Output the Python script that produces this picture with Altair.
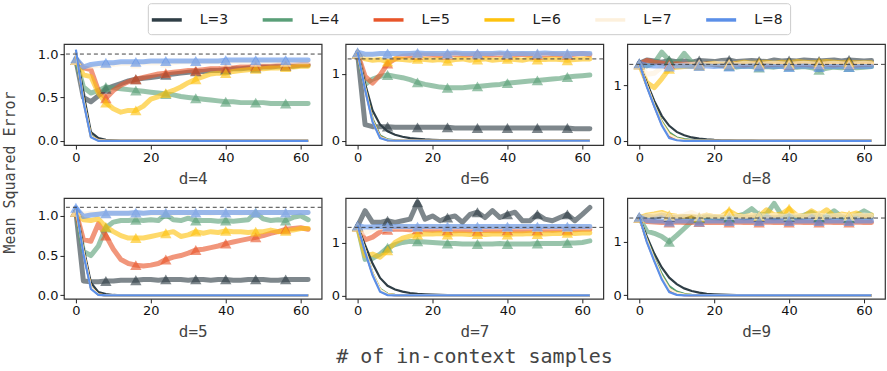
import altair as alt
import pandas as pd

X = [0, 2, 4, 6, 8, 10, 12, 14, 16, 18, 20, 22, 24, 26, 28, 30,
     32, 34, 36, 38, 40, 42, 44, 46, 48, 50, 52, 54, 56, 58, 60, 62]
MARK_X = [0, 8, 16, 24, 32, 40, 48, 56]
SERIES = ["L=3", "L=4", "L=5", "L=6", "L=7", "L=8"]
COLORS = ["#2f3e46", "#5a9f78", "#e8552a", "#fec20e", "#fdf0dc", "#5b8fe8"]

PANELS = ["d=4", "d=6", "d=8", "d=5", "d=7", "d=9"]
BASELINE = {"d=4": 1.0, "d=6": 1.22, "d=8": 1.38, "d=5": 1.106, "d=7": 1.285, "d=9": 1.445}
Y_DOMAIN = {"d=4": [-0.049, 1.114], "d=6": [-0.064, 1.44], "d=8": [-0.077, 1.745],
            "d=5": [-0.044, 1.223], "d=7": [-0.066, 1.84], "d=9": [-0.066, 1.82]}
Y_TICKS = {"d=4": [0, 0.5, 1.0], "d=6": [0, 1], "d=8": [0, 1],
           "d=5": [0, 0.5, 1.0], "d=7": [0, 1], "d=9": [0, 1]}

# ---- thick (transparent, with triangles) series ----
THICK = {
    "d=4": {
        "L=3": [0.93, 0.50, 0.45, 0.52, 0.60, 0.63, 0.66, 0.69, 0.71, 0.72, 0.73, 0.74, 0.76, 0.77, 0.78, 0.79,
                0.80, 0.80, 0.81, 0.81, 0.82, 0.83, 0.83, 0.84, 0.84, 0.85, 0.85, 0.86, 0.86, 0.86, 0.87, 0.87],
        "L=4": [0.93, 0.62, 0.55, 0.58, 0.62, 0.61, 0.60, 0.59, 0.58, 0.57, 0.56, 0.55, 0.54, 0.53, 0.51, 0.50,
                0.49, 0.48, 0.47, 0.46, 0.45, 0.45, 0.44, 0.44, 0.44, 0.44, 0.43, 0.43, 0.43, 0.43, 0.43, 0.43],
        "L=5": [0.93, 0.84, 0.82, 0.58, 0.49, 0.58, 0.64, 0.68, 0.71, 0.73, 0.75, 0.77, 0.78, 0.79, 0.80, 0.81,
                0.81, 0.82, 0.83, 0.83, 0.84, 0.84, 0.85, 0.85, 0.86, 0.86, 0.86, 0.87, 0.87, 0.87, 0.88, 0.88],
        "L=6": [0.93, 0.76, 0.74, 0.55, 0.44, 0.37, 0.33, 0.35, 0.35, 0.40, 0.48, 0.51, 0.55, 0.58, 0.62, 0.67,
                0.71, 0.74, 0.77, 0.78, 0.78, 0.80, 0.81, 0.82, 0.83, 0.83, 0.84, 0.84, 0.85, 0.85, 0.86, 0.86],
        "L=7": [0.93, 0.86, 0.86, 0.87, 0.88, 0.88, 0.89, 0.89, 0.89, 0.90, 0.90, 0.90, 0.90, 0.90, 0.91, 0.91,
                0.91, 0.91, 0.91, 0.91, 0.91, 0.91, 0.91, 0.91, 0.91, 0.91, 0.91, 0.91, 0.91, 0.91, 0.91, 0.91],
        "L=8": [0.95, 0.85, 0.88, 0.89, 0.90, 0.90, 0.91, 0.91, 0.91, 0.91, 0.92, 0.92, 0.92, 0.92, 0.92, 0.92,
                0.92, 0.92, 0.92, 0.92, 0.93, 0.93, 0.93, 0.93, 0.93, 0.93, 0.93, 0.93, 0.93, 0.93, 0.93, 0.93],
    },
    "d=6": {
        "L=3": [1.30, 0.24, 0.21, 0.21, 0.21, 0.20, 0.20, 0.20, 0.20, 0.20, 0.20, 0.20, 0.20, 0.19, 0.19, 0.19,
                0.19, 0.19, 0.19, 0.19, 0.19, 0.19, 0.19, 0.19, 0.19, 0.19, 0.19, 0.19, 0.19, 0.18, 0.18, 0.18],
        "L=4": [1.30, 0.84, 0.92, 0.96, 0.98, 0.96, 0.94, 0.91, 0.87, 0.84, 0.82, 0.80, 0.79, 0.79, 0.79, 0.80,
                0.81, 0.82, 0.83, 0.84, 0.86, 0.87, 0.88, 0.89, 0.90, 0.91, 0.92, 0.93, 0.95, 0.96, 0.97, 0.98],
        "L=5": [1.30, 0.96, 0.86, 0.98, 1.15, 1.22, 1.26, 1.27, 1.28, 1.28, 1.28, 1.27, 1.28, 1.29, 1.28, 1.28,
                1.29, 1.28, 1.28, 1.29, 1.28, 1.28, 1.29, 1.28, 1.28, 1.28, 1.29, 1.28, 1.28, 1.29, 1.30, 1.28],
        "L=6": [1.30, 1.22, 1.20, 1.21, 1.18, 1.22, 1.21, 1.20, 1.22, 1.21, 1.20, 1.21, 1.19, 1.21, 1.22, 1.20,
                1.21, 1.22, 1.20, 1.21, 1.22, 1.21, 1.20, 1.22, 1.21, 1.21, 1.22, 1.21, 1.20, 1.21, 1.22, 1.22],
        "L=7": [1.30, 1.27, 1.28, 1.29, 1.29, 1.30, 1.29, 1.30, 1.30, 1.29, 1.30, 1.30, 1.29, 1.30, 1.30, 1.30,
                1.29, 1.30, 1.30, 1.30, 1.29, 1.30, 1.30, 1.30, 1.30, 1.30, 1.30, 1.30, 1.30, 1.30, 1.30, 1.30],
        "L=8": [1.32, 1.29, 1.29, 1.30, 1.30, 1.30, 1.30, 1.30, 1.31, 1.30, 1.30, 1.30, 1.30, 1.31, 1.30, 1.30,
                1.30, 1.30, 1.30, 1.31, 1.30, 1.30, 1.30, 1.30, 1.30, 1.31, 1.30, 1.30, 1.30, 1.30, 1.30, 1.30],
    },
    "d=8": {
        "L=3": [1.40, 1.46, 1.44, 1.42, 1.45, 1.43, 1.44, 1.42, 1.45, 1.44, 1.43, 1.45, 1.46, 1.43, 1.44, 1.45,
                1.44, 1.43, 1.46, 1.44, 1.45, 1.44, 1.46, 1.45, 1.44, 1.45, 1.46, 1.44, 1.46, 1.45, 1.44, 1.45],
        "L=4": [1.38, 1.35, 1.40, 1.60, 1.45, 1.40, 1.58, 1.42, 1.38, 1.40, 1.37, 1.36, 1.35, 1.33, 1.35, 1.34,
                1.32, 1.34, 1.33, 1.35, 1.34, 1.33, 1.34, 1.32, 1.28, 1.31, 1.33, 1.32, 1.33, 1.32, 1.33, 1.34],
        "L=5": [1.38, 1.45, 1.42, 1.40, 1.38, 1.39, 1.38, 1.38, 1.38, 1.39, 1.38, 1.37, 1.38, 1.38, 1.37, 1.38,
                1.38, 1.37, 1.38, 1.38, 1.37, 1.38, 1.38, 1.37, 1.38, 1.38, 1.37, 1.38, 1.38, 1.37, 1.38, 1.38],
        "L=6": [1.38, 1.05, 0.96, 1.12, 1.30, 1.33, 1.34, 1.35, 1.36, 1.38, 1.40, 1.38, 1.39, 1.40, 1.42, 1.40,
                1.41, 1.42, 1.40, 1.42, 1.41, 1.43, 1.42, 1.41, 1.42, 1.43, 1.42, 1.41, 1.42, 1.41, 1.41, 1.41],
        "L=7": [1.38, 1.20, 1.22, 1.33, 1.35, 1.36, 1.37, 1.38, 1.39, 1.38, 1.39, 1.40, 1.39, 1.38, 1.40, 1.39,
                1.38, 1.39, 1.40, 1.39, 1.38, 1.39, 1.40, 1.39, 1.38, 1.39, 1.40, 1.39, 1.38, 1.39, 1.40, 1.39],
        "L=8": [1.40, 1.36, 1.35, 1.35, 1.34, 1.35, 1.35, 1.34, 1.35, 1.35, 1.34, 1.35, 1.34, 1.35, 1.34, 1.35,
                1.34, 1.35, 1.34, 1.34, 1.33, 1.34, 1.35, 1.34, 1.33, 1.34, 1.34, 1.34, 1.33, 1.34, 1.34, 1.34],
    },
    "d=5": {
        "L=3": [1.05, 0.18, 0.17, 0.17, 0.18, 0.18, 0.19, 0.19, 0.19, 0.20, 0.20, 0.19, 0.20, 0.20, 0.20, 0.19,
                0.20, 0.20, 0.19, 0.20, 0.20, 0.19, 0.19, 0.20, 0.20, 0.20, 0.19, 0.19, 0.20, 0.20, 0.20, 0.20],
        "L=4": [1.05, 0.55, 0.50, 0.62, 0.85, 0.92, 0.94, 0.94, 0.95, 0.94, 0.95, 0.94, 1.02, 0.95, 0.94, 0.97,
                0.94, 0.94, 0.94, 0.93, 0.94, 0.93, 0.94, 0.95, 1.04, 0.96, 0.94, 0.95, 0.94, 0.98, 1.00, 0.95],
        "L=5": [1.05, 0.70, 0.68, 0.90, 0.75, 0.58, 0.45, 0.40, 0.38, 0.37, 0.38, 0.40, 0.45, 0.48, 0.50, 0.53,
                0.57, 0.58, 0.60, 0.62, 0.65, 0.67, 0.69, 0.71, 0.73, 0.75, 0.78, 0.80, 0.83, 0.84, 0.85, 0.83],
        "L=6": [1.05, 0.95, 0.94, 0.96, 0.86, 0.80, 0.75, 0.72, 0.72, 0.72, 0.74, 0.76, 0.78, 0.80, 0.74, 0.76,
                0.80, 0.78, 0.80, 0.79, 0.81, 0.80, 0.80, 0.79, 0.80, 0.80, 0.82, 0.80, 0.81, 0.82, 0.84, 0.84],
        "L=7": [1.05, 1.02, 1.03, 1.03, 1.03, 1.03, 1.03, 1.03, 1.03, 1.03, 1.03, 1.03, 1.04, 1.03, 1.04, 1.03,
                1.04, 1.04, 1.03, 1.04, 1.04, 1.04, 1.03, 1.04, 1.04, 1.04, 1.04, 1.04, 1.04, 1.04, 1.04, 1.04],
        "L=8": [1.10, 0.99, 1.01, 1.02, 1.03, 1.03, 1.03, 1.03, 1.04, 1.03, 1.04, 1.04, 1.04, 1.04, 1.04, 1.04,
                1.04, 1.04, 1.04, 1.04, 1.04, 1.04, 1.04, 1.04, 1.04, 1.04, 1.04, 1.04, 1.04, 1.04, 1.04, 1.04],
    },
    "d=7": {
        "L=3": [1.31, 1.60, 1.38, 1.38, 1.41, 1.38, 1.41, 1.44, 1.76, 1.44, 1.50, 1.41, 1.47, 1.50, 1.38, 1.53,
                1.57, 1.47, 1.60, 1.47, 1.53, 1.57, 1.41, 1.41, 1.53, 1.44, 1.41, 1.47, 1.53, 1.41, 1.53, 1.66],
        "L=4": [1.30, 0.68, 0.70, 0.78, 0.90, 0.96, 1.00, 1.02, 1.02, 1.01, 1.00, 0.99, 0.98, 0.98, 0.97, 0.97,
                0.97, 0.97, 0.97, 0.98, 0.97, 0.97, 0.97, 0.97, 0.98, 0.98, 0.98, 0.98, 0.99, 0.99, 1.00, 1.03],
        "L=5": [1.30, 1.05, 1.10, 1.20, 1.24, 1.25, 1.25, 1.24, 1.25, 1.24, 1.23, 1.24, 1.23, 1.22, 1.23, 1.22,
                1.22, 1.23, 1.22, 1.22, 1.23, 1.22, 1.22, 1.23, 1.23, 1.24, 1.23, 1.24, 1.24, 1.24, 1.25, 1.25],
        "L=6": [1.30, 0.75, 0.78, 0.72, 0.85, 1.00, 1.08, 1.12, 1.15, 1.16, 1.16, 1.17, 1.15, 1.16, 1.16, 1.15,
                1.16, 1.15, 1.16, 1.16, 1.15, 1.16, 1.16, 1.17, 1.16, 1.16, 1.17, 1.17, 1.18, 1.17, 1.18, 1.18],
        "L=7": [1.30, 1.18, 1.25, 1.28, 1.29, 1.29, 1.29, 1.29, 1.29, 1.29, 1.29, 1.29, 1.29, 1.29, 1.29, 1.29,
                1.29, 1.29, 1.29, 1.29, 1.29, 1.29, 1.29, 1.29, 1.29, 1.29, 1.29, 1.29, 1.29, 1.29, 1.29, 1.29],
        "L=8": [1.32, 1.29, 1.29, 1.30, 1.30, 1.30, 1.30, 1.30, 1.30, 1.30, 1.30, 1.30, 1.30, 1.30, 1.30, 1.30,
                1.30, 1.30, 1.30, 1.30, 1.30, 1.30, 1.30, 1.30, 1.30, 1.30, 1.30, 1.30, 1.30, 1.30, 1.30, 1.30],
    },
    "d=9": {
        "L=3": [1.45, 1.48, 1.46, 1.50, 1.47, 1.45, 1.47, 1.46, 1.45, 1.47, 1.46, 1.45, 1.46, 1.47, 1.45, 1.46,
                1.47, 1.46, 1.45, 1.46, 1.47, 1.45, 1.46, 1.47, 1.46, 1.45, 1.47, 1.46, 1.45, 1.46, 1.47, 1.46],
        "L=4": [1.45, 1.20, 1.16, 1.10, 1.00, 1.12, 1.25, 1.38, 1.45, 1.46, 1.45, 1.44, 1.46, 1.48, 1.52, 1.62,
                1.50, 1.52, 1.72, 1.50, 1.48, 1.46, 1.50, 1.55, 1.47, 1.48, 1.58, 1.47, 1.45, 1.50, 1.58, 1.50],
        "L=5": [1.45, 1.38, 1.37, 1.36, 1.36, 1.37, 1.36, 1.36, 1.37, 1.36, 1.36, 1.36, 1.36, 1.37, 1.36, 1.36,
                1.36, 1.37, 1.36, 1.36, 1.36, 1.37, 1.36, 1.36, 1.36, 1.37, 1.36, 1.36, 1.36, 1.37, 1.36, 1.36],
        "L=6": [1.45, 1.50, 1.52, 1.55, 1.50, 1.48, 1.47, 1.48, 1.46, 1.50, 1.47, 1.48, 1.58, 1.50, 1.47, 1.50,
                1.48, 1.60, 1.50, 1.52, 1.62, 1.50, 1.48, 1.58, 1.50, 1.60, 1.48, 1.52, 1.50, 1.54, 1.48, 1.50],
        "L=7": [1.45, 1.48, 1.50, 1.52, 1.48, 1.47, 1.50, 1.55, 1.48, 1.50, 1.47, 1.48, 1.50, 1.48, 1.47, 1.50,
                1.49, 1.48, 1.50, 1.48, 1.49, 1.50, 1.48, 1.49, 1.50, 1.48, 1.49, 1.50, 1.48, 1.49, 1.50, 1.49],
        "L=8": [1.47, 1.40, 1.39, 1.39, 1.38, 1.39, 1.39, 1.39, 1.38, 1.39, 1.39, 1.39, 1.39, 1.39, 1.39, 1.39,
                1.39, 1.39, 1.39, 1.39, 1.39, 1.39, 1.39, 1.39, 1.39, 1.39, 1.39, 1.39, 1.39, 1.39, 1.39, 1.39],
    },
}

# ---- thin (opaque) series decaying to zero ----
THIN = {
    "d=4": {
        "L=3": [1.02, 0.55, 0.10, 0.03, 0.01, 0.005, 0, 0, 0, 0, 0, 0, 0, 0, 0, 0,
                0, 0, 0, 0, 0, 0, 0, 0, 0, 0, 0, 0, 0, 0, 0, 0],
        "L=4": [1.02, 0.48, 0.06, 0.01, 0, 0, 0, 0, 0, 0, 0, 0, 0, 0, 0, 0,
                0, 0, 0, 0, 0, 0, 0, 0, 0, 0, 0, 0, 0, 0, 0, 0],
        "L=5": [1.02, 0.47, 0.05, 0.01, 0, 0, 0, 0, 0, 0, 0, 0, 0, 0, 0, 0,
                0, 0, 0, 0, 0, 0, 0, 0, 0, 0, 0, 0, 0, 0, 0, 0],
        "L=6": [1.02, 0.47, 0.05, 0.005, 0, 0, 0, 0, 0, 0, 0, 0, 0, 0, 0, 0,
                0, 0, 0, 0, 0, 0, 0, 0, 0, 0, 0, 0, 0, 0, 0, 0],
        "L=7": [1.02, 0.47, 0.05, 0.005, 0, 0, 0, 0, 0, 0, 0, 0, 0, 0, 0, 0,
                0, 0, 0, 0, 0, 0, 0, 0, 0, 0, 0, 0, 0, 0, 0, 0],
        "L=8": [1.05, 0.45, 0.04, 0, 0, 0, 0, 0, 0, 0, 0, 0, 0, 0, 0, 0,
                0, 0, 0, 0, 0, 0, 0, 0, 0, 0, 0, 0, 0, 0, 0, 0],
    },
    "d=6": {
        "L=3": [1.30, 0.85, 0.45, 0.24, 0.14, 0.09, 0.06, 0.04, 0.03, 0.02, 0.015, 0.01, 0.008, 0.006, 0.004, 0.003,
                0.002, 0, 0, 0, 0, 0, 0, 0, 0, 0, 0, 0, 0, 0, 0, 0],
        "L=4": [1.30, 0.80, 0.33, 0.08, 0.02, 0.005, 0, 0, 0, 0, 0, 0, 0, 0, 0, 0,
                0, 0, 0, 0, 0, 0, 0, 0, 0, 0, 0, 0, 0, 0, 0, 0],
        "L=5": [1.30, 0.78, 0.30, 0.06, 0.01, 0, 0, 0, 0, 0, 0, 0, 0, 0, 0, 0,
                0, 0, 0, 0, 0, 0, 0, 0, 0, 0, 0, 0, 0, 0, 0, 0],
        "L=6": [1.30, 0.78, 0.30, 0.05, 0.01, 0, 0, 0, 0, 0, 0, 0, 0, 0, 0, 0,
                0, 0, 0, 0, 0, 0, 0, 0, 0, 0, 0, 0, 0, 0, 0, 0],
        "L=7": [1.30, 0.78, 0.29, 0.05, 0.01, 0, 0, 0, 0, 0, 0, 0, 0, 0, 0, 0,
                0, 0, 0, 0, 0, 0, 0, 0, 0, 0, 0, 0, 0, 0, 0, 0],
        "L=8": [1.32, 0.76, 0.28, 0.04, 0.005, 0, 0, 0, 0, 0, 0, 0, 0, 0, 0, 0,
                0, 0, 0, 0, 0, 0, 0, 0, 0, 0, 0, 0, 0, 0, 0, 0],
    },
    "d=8": {
        "L=3": [1.38, 1.05, 0.72, 0.45, 0.27, 0.16, 0.10, 0.06, 0.04, 0.025, 0.015, 0.01, 0.007, 0.005, 0.003, 0.002,
                0, 0, 0, 0, 0, 0, 0, 0, 0, 0, 0, 0, 0, 0, 0, 0],
        "L=4": [1.38, 1.00, 0.65, 0.35, 0.15, 0.06, 0.03, 0.015, 0.008, 0.004, 0, 0, 0, 0, 0, 0,
                0, 0, 0, 0, 0, 0, 0, 0, 0, 0, 0, 0, 0, 0, 0, 0],
        "L=5": [1.38, 1.00, 0.63, 0.30, 0.08, 0.02, 0.005, 0, 0, 0, 0, 0, 0, 0, 0, 0,
                0, 0, 0, 0, 0, 0, 0, 0, 0, 0, 0, 0, 0, 0, 0, 0],
        "L=6": [1.38, 1.00, 0.64, 0.33, 0.12, 0.04, 0.015, 0.005, 0, 0, 0, 0, 0, 0, 0, 0,
                0, 0, 0, 0, 0, 0, 0, 0, 0, 0, 0, 0, 0, 0, 0, 0],
        "L=7": [1.38, 1.00, 0.64, 0.32, 0.11, 0.04, 0.01, 0.005, 0, 0, 0, 0, 0, 0, 0, 0,
                0, 0, 0, 0, 0, 0, 0, 0, 0, 0, 0, 0, 0, 0, 0, 0],
        "L=8": [1.40, 0.98, 0.62, 0.28, 0.05, 0.01, 0, 0, 0, 0, 0, 0, 0, 0, 0, 0,
                0, 0, 0, 0, 0, 0, 0, 0, 0, 0, 0, 0, 0, 0, 0, 0],
    },
    "d=5": {
        "L=3": [1.08, 0.60, 0.16, 0.04, 0.015, 0.005, 0, 0, 0, 0, 0, 0, 0, 0, 0, 0,
                0, 0, 0, 0, 0, 0, 0, 0, 0, 0, 0, 0, 0, 0, 0, 0],
        "L=4": [1.08, 0.55, 0.10, 0.01, 0, 0, 0, 0, 0, 0, 0, 0, 0, 0, 0, 0,
                0, 0, 0, 0, 0, 0, 0, 0, 0, 0, 0, 0, 0, 0, 0, 0],
        "L=5": [1.08, 0.55, 0.10, 0.01, 0, 0, 0, 0, 0, 0, 0, 0, 0, 0, 0, 0,
                0, 0, 0, 0, 0, 0, 0, 0, 0, 0, 0, 0, 0, 0, 0, 0],
        "L=6": [1.08, 0.55, 0.10, 0.01, 0, 0, 0, 0, 0, 0, 0, 0, 0, 0, 0, 0,
                0, 0, 0, 0, 0, 0, 0, 0, 0, 0, 0, 0, 0, 0, 0, 0],
        "L=7": [1.08, 0.55, 0.10, 0.01, 0, 0, 0, 0, 0, 0, 0, 0, 0, 0, 0, 0,
                0, 0, 0, 0, 0, 0, 0, 0, 0, 0, 0, 0, 0, 0, 0, 0],
        "L=8": [1.12, 0.52, 0.08, 0.005, 0, 0, 0, 0, 0, 0, 0, 0, 0, 0, 0, 0,
                0, 0, 0, 0, 0, 0, 0, 0, 0, 0, 0, 0, 0, 0, 0, 0],
    },
    "d=7": {
        "L=3": [1.30, 0.95, 0.60, 0.33, 0.18, 0.11, 0.07, 0.045, 0.03, 0.02, 0.013, 0.008, 0.005, 0.003, 0.002, 0.001,
                0, 0, 0, 0, 0, 0, 0, 0, 0, 0, 0, 0, 0, 0, 0, 0],
        "L=4": [1.30, 0.85, 0.42, 0.12, 0.03, 0.01, 0.003, 0, 0, 0, 0, 0, 0, 0, 0, 0,
                0, 0, 0, 0, 0, 0, 0, 0, 0, 0, 0, 0, 0, 0, 0, 0],
        "L=5": [1.30, 0.84, 0.40, 0.10, 0.015, 0.003, 0, 0, 0, 0, 0, 0, 0, 0, 0, 0,
                0, 0, 0, 0, 0, 0, 0, 0, 0, 0, 0, 0, 0, 0, 0, 0],
        "L=6": [1.30, 0.85, 0.41, 0.11, 0.02, 0.005, 0, 0, 0, 0, 0, 0, 0, 0, 0, 0,
                0, 0, 0, 0, 0, 0, 0, 0, 0, 0, 0, 0, 0, 0, 0, 0],
        "L=7": [1.30, 0.85, 0.41, 0.11, 0.02, 0.005, 0, 0, 0, 0, 0, 0, 0, 0, 0, 0,
                0, 0, 0, 0, 0, 0, 0, 0, 0, 0, 0, 0, 0, 0, 0, 0],
        "L=8": [1.32, 0.82, 0.38, 0.07, 0.005, 0, 0, 0, 0, 0, 0, 0, 0, 0, 0, 0,
                0, 0, 0, 0, 0, 0, 0, 0, 0, 0, 0, 0, 0, 0, 0, 0],
    },
    "d=9": {
        "L=3": [1.45, 1.10, 0.78, 0.52, 0.33, 0.21, 0.13, 0.08, 0.05, 0.03, 0.02, 0.013, 0.008, 0.005, 0.003, 0.002,
                0.001, 0, 0, 0, 0, 0, 0, 0, 0, 0, 0, 0, 0, 0, 0, 0],
        "L=4": [1.45, 1.05, 0.70, 0.40, 0.17, 0.07, 0.03, 0.01, 0.005, 0, 0, 0, 0, 0, 0, 0,
                0, 0, 0, 0, 0, 0, 0, 0, 0, 0, 0, 0, 0, 0, 0, 0],
        "L=5": [1.45, 1.02, 0.66, 0.33, 0.08, 0.015, 0.003, 0, 0, 0, 0, 0, 0, 0, 0, 0,
                0, 0, 0, 0, 0, 0, 0, 0, 0, 0, 0, 0, 0, 0, 0, 0],
        "L=6": [1.45, 1.03, 0.67, 0.35, 0.12, 0.04, 0.015, 0.005, 0, 0, 0, 0, 0, 0, 0, 0,
                0, 0, 0, 0, 0, 0, 0, 0, 0, 0, 0, 0, 0, 0, 0, 0],
        "L=7": [1.45, 1.03, 0.67, 0.35, 0.12, 0.04, 0.015, 0.005, 0, 0, 0, 0, 0, 0, 0, 0,
                0, 0, 0, 0, 0, 0, 0, 0, 0, 0, 0, 0, 0, 0, 0, 0],
        "L=8": [1.47, 1.00, 0.64, 0.30, 0.06, 0.01, 0, 0, 0, 0, 0, 0, 0, 0, 0, 0,
                0, 0, 0, 0, 0, 0, 0, 0, 0, 0, 0, 0, 0, 0, 0, 0],
    },
}

for p in PANELS:
    for s in SERIES:
        assert len(THICK[p][s]) == len(X), (p, s, "thick")
        assert len(THIN[p][s]) == len(X), (p, s, "thin")

TITLE_FONT = "DejaVu Sans Mono"
LABEL_FONT = "DejaVu Sans"
TEXT_GRAY = "#444444"

# a 30px-long, 15px-tall legend line symbol (custom unit path, scaled by sqrt(size)/2)
LEGEND = alt.Legend(
    title=None, orient="none", direction="horizontal", legendX=84, legendY=-41,
    symbolType="M-1.67,0H2.33", symbolSize=225, symbolStrokeWidth=3.5, symbolOpacity=1,
    labelFont=LABEL_FONT, labelFontSize=14, labelColor="#222222", labelOffset=26,
    columnPadding=26, padding=7, strokeColor="#cccccc", fillColor="white", cornerRadius=3,
)


def panel(name, width, height, ytitle=False, bottom_title=False):
    rows = []
    for s in SERIES:
        for i, xv in enumerate(X):
            rows.append({"L": s, "x": xv, "thick": THICK[name][s][i], "thin": THIN[name][s][i]})
    df = pd.DataFrame(rows)
    xenc = alt.X("x:Q", scale=alt.Scale(domain=[-3.2, 65.6], nice=False, zero=False),
                 axis=alt.Axis(values=[0, 20, 40, 60], format="d", title=name, titlePadding=6))
    fmt = ".1f" if 0.5 in Y_TICKS[name] else "d"
    if ytitle:
        yaxis = alt.Axis(values=Y_TICKS[name], format=fmt, title="Mean Squared Error",
                         titleX=-46, titleY=128, titleAngle=270, titleAlign="center",
                         titleBaseline="bottom", titleFontSize=15)
    else:
        yaxis = alt.Axis(values=Y_TICKS[name], format=fmt, title=None)
    yscale = alt.Scale(domain=Y_DOMAIN[name], nice=False, zero=False)
    color = alt.Color("L:N", scale=alt.Scale(domain=SERIES, range=COLORS), legend=LEGEND)

    base = alt.Chart(df)
    thick = base.mark_line(strokeWidth=5, opacity=0.62, strokeCap="round", strokeJoin="round").encode(
        x=xenc, y=alt.Y("thick:Q", scale=yscale, axis=yaxis), color=color)
    tri = base.transform_filter(
        alt.FieldOneOfPredicate(field="x", oneOf=MARK_X)
    ).mark_point(shape="triangle-up", filled=True, size=130, opacity=0.62).encode(
        x=xenc, y=alt.Y("thick:Q", scale=yscale, axis=yaxis), color=color)
    thin = base.mark_line(strokeWidth=2.2).encode(
        x=xenc, y=alt.Y("thin:Q", scale=yscale, axis=yaxis), color=color)
    rule = alt.Chart(pd.DataFrame({"b": [BASELINE[name]]})).mark_rule(
        color="#444444", strokeDash=[4, 3], strokeWidth=1).encode(
        y=alt.Y("b:Q", scale=yscale, axis=yaxis))
    props = dict(width=width, height=height)
    if bottom_title:
        props["title"] = alt.TitleParams("# of in-context samples", orient="bottom", anchor="middle",
                                         font=TITLE_FONT, fontSize=20, fontWeight="normal",
                                         color=TEXT_GRAY, offset=7)
    return alt.layer(thick, tri, thin, rule).properties(**props)


W = 258
H = 101
p1 = panel("d=4", W, H, ytitle=True)
p2 = panel("d=6", W, H)
p3 = panel("d=8", W, H)
p4 = panel("d=5", W, H)
p5 = panel("d=7", W, H, bottom_title=True)
p6 = panel("d=9", W, H)

chart = alt.concat(p1, p2, p3, p4, p5, p6, columns=3, bounds="flush",
                   spacing={"row": 53, "column": 24}).properties(
    padding={"left": 2, "top": 2, "right": 0, "bottom": 2}
).configure_view(
    stroke="#333333", strokeWidth=1.2
).configure_axis(
    grid=False, domain=False, labelFont=LABEL_FONT, labelFontSize=13, labelColor="#111111",
    tickColor="#222222", tickSize=4, labelPadding=2,
    titleFont=TITLE_FONT, titleFontSize=16, titleFontWeight="normal", titleColor=TEXT_GRAY,
)

chart.save("out.html", embed_options={"renderer": "svg", "actions": False})
